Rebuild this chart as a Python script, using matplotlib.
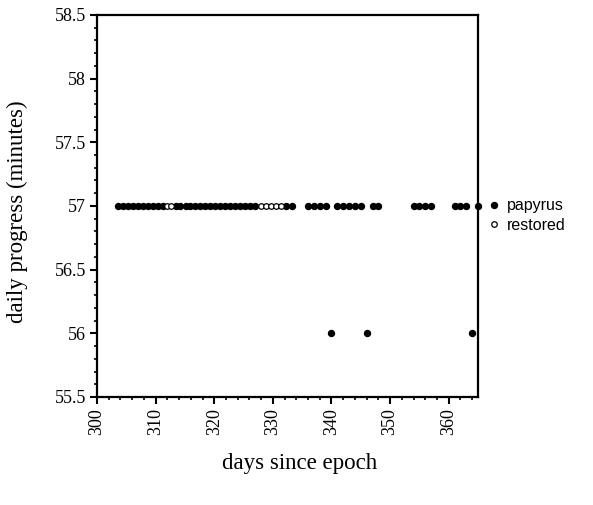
import matplotlib
matplotlib.use("Agg")
import matplotlib.pyplot as plt
from matplotlib.ticker import MultipleLocator

# papyrus (filled) and restored (open) observations
papyrus_days = [
    303.6, 304.5, 305.3, 306.2, 307.0, 307.9, 308.7, 309.6, 310.4, 311.3,
    313.4, 314.2, 315.1, 315.9, 316.8, 317.6, 318.5, 319.3, 320.2, 321.0,
    321.9, 322.7, 323.6, 324.4, 325.3, 326.1, 327.0, 332.3, 333.2,
    336, 337, 338, 339, 341, 342, 343, 344, 345, 347, 348,
    354, 355, 356, 357, 361, 362, 363, 365,
    340, 346, 364,
]
papyrus_minutes = [57] * 48 + [56, 56, 56]

restored_days = [311.9, 312.6, 327.9, 328.8, 329.7, 330.5, 331.4]
restored_minutes = [57, 57, 57, 57, 57, 57, 57]

serif = "Liberation Serif"

fig = plt.figure(figsize=(5.93, 5.05), dpi=100)
ax = fig.add_axes([0.1636, 0.2139, 0.6425, 0.7565])

ax.plot(papyrus_days, papyrus_minutes, "o", color="black", markersize=4.3,
        linestyle="none", label="papyrus", clip_on=False)
ax.plot(restored_days, restored_minutes, "o", markerfacecolor="white",
        markeredgecolor="black", markeredgewidth=0.9, markersize=4.0,
        linestyle="none", label="restored", clip_on=False)

ax.set_xlim(300, 365)
ax.set_ylim(55.5, 58.5)
ax.xaxis.set_major_locator(MultipleLocator(10))
ax.xaxis.set_minor_locator(MultipleLocator(2))
ax.yaxis.set_minor_locator(MultipleLocator(0.1))
ax.set_yticks([55.5, 56, 56.5, 57, 57.5, 58, 58.5])
ax.set_yticklabels(["55.5", "56", "56.5", "57", "57.5", "58", "58.5"])

for s in ax.spines.values():
    s.set_linewidth(1.6)
ax.tick_params(which="major", direction="out", length=5, width=1.5, pad=3)
ax.tick_params(which="minor", direction="out", length=2.5, width=1.2)
ax.tick_params(axis="x", labelrotation=90)
for lab in ax.get_xticklabels() + ax.get_yticklabels():
    lab.set_fontfamily(serif)
    lab.set_fontsize(13)

ax.set_xlabel("days since epoch", fontfamily=serif, fontsize=16.5)
ax.xaxis.set_label_coords(0.533, -0.147)
ax.set_ylabel("daily progress (minutes)", fontfamily=serif, fontsize=16.5)
ax.yaxis.set_label_coords(-0.18, 0.484)

leg = ax.legend(loc="center left", bbox_to_anchor=(0.99, 0.475), frameon=False,
                handlelength=0.7, handletextpad=0.45, labelspacing=0.3,
                prop={"family": "Liberation Sans", "size": 11.5})

fig.savefig("out.png", dpi=100)
